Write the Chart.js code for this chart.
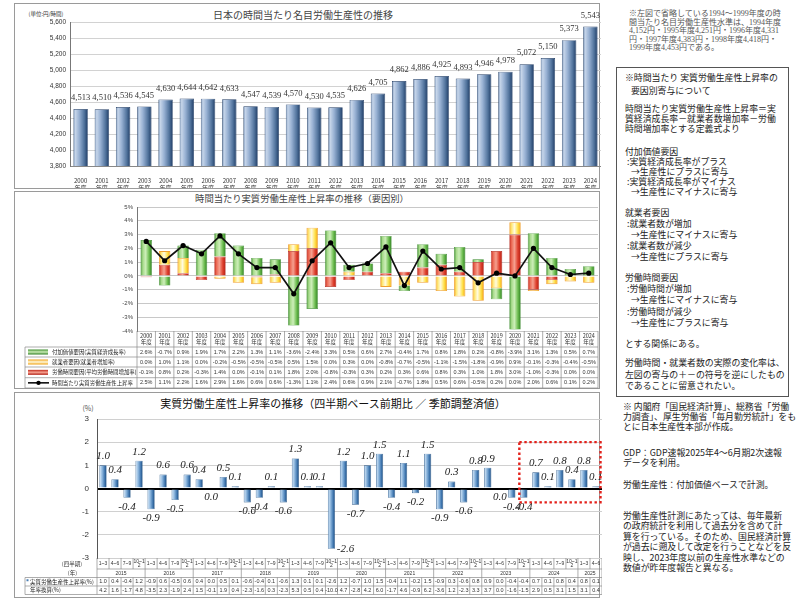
<!DOCTYPE html>
<html lang="ja">
<head>
<meta charset="utf-8">
<script src="https://cdn.jsdelivr.net/npm/chart.js@4.4.1/dist/chart.umd.min.js"></script>
<style>
  body { margin:0; width:800px; height:602px; overflow:hidden; background:#fff; position:relative;
         font-family:"Noto Sans CJK JP", sans-serif; color:#222; }
  .panel { position:absolute; border:1px solid #9a9a9a; box-sizing:border-box; }
  canvas { position:absolute; }
  .ttl { position:absolute; white-space:nowrap; transform:translateX(-50%); line-height:1; }
  .txt { position:absolute; white-space:pre; font-size:8.9px; color:#222; }
  .note { position:absolute; white-space:pre; font-family:"Liberation Serif","Noto Sans CJK JP",serif; font-size:8px; line-height:8.6px; color:#555; }
  .box { position:absolute; left:616px; top:67px; width:173px; height:330px; border:1px solid #555; box-sizing:border-box; }
</style>
</head>
<body>

<div class="panel" style="left:14px;top:3px;width:586px;height:186px"></div>
<div class="panel" style="left:14px;top:191px;width:586px;height:198px"></div>
<div class="panel" style="left:14px;top:392px;width:586px;height:206px"></div>

<div class="ttl" style="left:303px;top:10px;font-size:10px;color:#444">日本の時間当たり名目労働生産性の推移</div>
<div class="ttl" style="left:46px;top:12px;font-size:5.5px;color:#333">(単位:円/時間)</div>
<div class="ttl" style="left:302px;top:194px;font-size:9.3px;color:#444">時間当たり実質労働生産性上昇率の推移（要因別）</div>
<div class="ttl" style="left:333px;top:398px;font-size:11px;color:#111">実質労働生産性上昇率の推移（四半期ベース前期比 ／ 季節調整済値）</div>
<div class="ttl" style="left:88px;top:405px;font-size:7px;color:#555">(%)</div>

<canvas id="c1" width="586" height="184" style="left:15px;top:4px"></canvas>
<canvas id="c2" width="587" height="197" style="left:15px;top:192px"></canvas>
<canvas id="c3" width="587" height="209" style="left:15px;top:393px"></canvas>

<div class="note" style="left:629px;top:10px">※左図で省略している1994～1999年度の時
間当たり名目労働生産性水準は、1994年度
4,152円・1995年度4,251円・1996年度4,331
円・1997年度4,383円・1998年度4,418円・
1999年度4,453円である。</div>

<div class="box"></div>
<div class="txt" style="left:625px;top:72px;line-height:12.5px">※時間当たり 実質労働生産性上昇率の
   要因別寄与について</div>
<div class="txt" style="left:625px;top:104px;line-height:9.8px">時間当たり実質労働生産性上昇率＝実
質経済成長率－就業者数増加率－労働
時間増加率とする定義式より</div>
<div class="txt" style="left:625px;top:147px;line-height:9.9px">付加価値要因
 :実質経済成長率がプラス
   →生産性にプラスに寄与
 :実質経済成長率がマイナス
   →生産性にマイナスに寄与</div>
<div class="txt" style="left:625px;top:207px;line-height:11px">就業者要因
 :就業者数が増加
   →生産性にマイナスに寄与
 :就業者数が減少
   →生産性にプラスに寄与</div>
<div class="txt" style="left:625px;top:272px;line-height:11.2px">労働時間要因
 :労働時間が増加
   →生産性にマイナスに寄与
 :労働時間が減少
   →生産性にプラスに寄与</div>
<div class="txt" style="left:625px;top:337px">とする関係にある。</div>
<div class="txt" style="left:625px;top:357px;line-height:11.5px">労働時間・就業者数の実際の変化率は、
左図の寄与の＋－の符号を逆にしたもの
であることに留意されたい。</div>

<div class="txt" style="left:623px;top:402px;line-height:10px">※ 内閣府「国民経済計算」、総務省「労働
力調査」、厚生労働省「毎月勤労統計」をも
とに日本生産性本部が作成。</div>
<div class="txt" style="left:623px;top:448px;line-height:9.6px">GDP：GDP速報2025年4～6月期2次速報
データを利用。</div>
<div class="txt" style="left:623px;top:478px">労働生産性：付加価値ベースで計測。</div>
<div class="txt" style="left:623px;top:511px;line-height:10.4px">労働生産性計測にあたっては、毎年最新
の政府統計を利用して過去分を含めて計
算を行っている。そのため、国民経済計算
が過去に遡及して改定を行うことなどを反
映し、2023年度以前の生産性水準などの
数値が昨年度報告と異なる。</div>

<script>
// 年度
const nendo = ["2000","2001","2002","2003","2004","2005","2006","2007","2008","2009","2010","2011","2012",
               "2013","2014","2015","2016","2017","2018","2019","2020","2021","2022","2023","2024"];

// 時間当たり名目労働生産性 (円/時間)
const meimoku = [4513,4510,4536,4545,4630,4644,4642,4633,4547,4539,4570,4530,4535,
                 4626,4705,4862,4886,4925,4893,4946,4978,5072,5150,5373,5543];
const meimokuTicks = [3800,4000,4200,4400,4600,4800,5000,5200,5400,5600];

// 要因別 (%)
const fukaKachi = [2.6,-0.7,0.9,1.9,1.7,2.2,1.3,1.1,-3.6,-2.4,3.3,0.5,0.6,2.7,-0.4,1.7,0.8,1.8,0.2,-0.8,-3.9,3.1,1.3,0.5,0.7];
const shugyosha = [0.0,1.0,1.1,0.0,-0.2,-0.5,-0.5,-0.5,0.5,1.5,0.0,0.3,0.0,-0.8,-0.7,-0.5,-1.1,-1.5,-1.8,-0.9,0.9,-0.1,-0.3,-0.4,-0.5];
const rodoJikan = [-0.1,0.8,0.2,-0.3,1.4,0.0,-0.1,0.1,1.8,2.0,-0.8,-0.3,0.3,0.2,0.3,0.6,0.8,0.3,1.0,1.8,3.0,-1.0,-0.3,0.0,0.0];
const jisshitsu = [2.5,1.1,2.2,1.6,2.9,1.6,0.6,0.6,-1.3,1.1,2.4,0.6,0.9,2.1,-0.7,1.8,0.5,0.6,-0.5,0.2,0.0,2.0,0.6,0.1,0.2];
const yoinTicks = [-4,-3,-2,-1,0,1,2,3,4,5];
const yoinNames = ["付加価値要因(実質経済成長率)","就業者要因(就業者増加率)","労働時間要因(平均労働時間増加率)","時間当たり実質労働生産性上昇率"];

// 四半期
const nen = ["2015","2016","2017","2018","2019","2020","2021","2022","2023","2024","2025"];
const shihanki = ["1~3","4~6","7~9","10~12"];
const zenkihi = [1.0,0.4,-0.4,1.2, -0.9,0.6,-0.5,0.6, 0.4,0.0,0.5,0.1, -0.6,-0.4,0.1,-0.6,
                 1.3,0.1,0.1,-2.6, 1.2,-0.7,1.0,1.5, -0.4,1.1,-0.2,1.5, -0.9,0.3,-0.6,0.8,
                 0.9,0.0,-0.4,-0.4, 0.7,0.1,0.8,0.4, 0.8,0.1];
const nenritsu = [4.2,1.6,-1.7,4.8, -3.5,2.3,-1.9,2.4, 1.5,-0.1,1.9,0.4, -2.3,-1.6,0.3,-2.3,
                  5.3,0.5,0.4,-10.0, 4.7,-2.8,4.2,6.0, -1.7,4.6,-0.9,6.2, -3.6,1.2,-2.3,3.3,
                  3.7,0.0,-1.6,-1.5, 2.9,0.5,3.1,1.5, 3.1,0.4];
const shihankiTicks = [-3,-2,-1,0,1,2,3];
const kyochoKara = "2023 10~12";   // 赤枠の開始期

const shihankiLabels = [];
nen.forEach(y => shihanki.forEach(q => shihankiLabels.push(y + " " + q)));
shihankiLabels.length = zenkihi.length;

const JP = '"Noto Sans CJK JP"';
const AR = '"Liberation Sans", Arial';

function fillGrad(stops, pct) {
    return function (c) {
        const chart = c.chart, ca = chart.chartArea;
        if (!ca) return stops[2][1];
        const xs = chart.scales.x;
        const cw = xs.width / chart.data.labels.length;
        const cx = xs.getPixelForValue(c.dataIndex);
        const w = cw * pct;
        const g = chart.ctx.createLinearGradient(cx - w / 2, 0, cx + w / 2, 0);
        stops.forEach(s => g.addColorStop(s[0], s[1]));
        return g;
    };
}

const blue1 = [[0,'#6a8ab4'],[0.14,'#c6d5e9'],[0.4,'#98b1d3'],[0.75,'#52749d'],[1,'#1e3b64']];
const blue3 = [[0,'#3d72a8'],[0.15,'#c2daf0'],[0.4,'#8ab4dc'],[0.75,'#3e75ae'],[1,'#1c4878']];
const green = [[0,'#3e8e2e'],[0.2,'#a6da8a'],[0.45,'#cdeeb9'],[0.75,'#6dbd50'],[1,'#2e7e21']];
const yellow = [[0,'#f2a21a'],[0.2,'#ffe877'],[0.45,'#fffbe0'],[0.75,'#ffe14a'],[1,'#f0a010']];
const red = [[0,'#c0281c'],[0.2,'#ec6a55'],[0.45,'#f5a08f'],[0.75,'#de3f2d'],[1,'#b21e14']];

function setTicks(list) {
    return s => { s.ticks = list.map(v => ({ value: v })); };
}

// ---------- 名目労働生産性 ----------
const c1Labels = {
    id: 'c1Labels',
    afterDatasetsDraw(chart) {
        const ctx = chart.ctx;
        ctx.save();
        ctx.font = '8.5px "Liberation Serif"';
        ctx.fillStyle = '#333';
        ctx.textAlign = 'center';
        ctx.textBaseline = 'middle';
        chart.getDatasetMeta(0).data.forEach((bar, i) => {
            ctx.fillText(meimoku[i].toLocaleString('en-US'), bar.x, bar.y - 11);
        });
        ctx.restore();
    }
};

new Chart(document.getElementById("c1"), {
    type: "bar",
    data: {
        labels: nendo.map(y => [y, "年度"]),
        datasets: [{
            data: meimoku,
            backgroundColor: fillGrad(blue1, 0.68),
            borderColor: '#243f66',
            borderWidth: 0.7,
            barPercentage: 1,
            categoryPercentage: 0.68
        }]
    },
    options: {
        responsive: false,
        animation: false,
        layout: { padding: { top: 18, left: 0, right: 0, bottom: 0 } },
        plugins: { legend: { display: false }, tooltip: { enabled: false } },
        scales: {
            x: {
                grid: { display: false },
                border: { color: '#888' },
                ticks: { font: { size: 6, family: JP }, color: '#333', padding: 3, maxRotation: 0, autoSkip: false },
                afterFit: s => { s.height = 22; }
            },
            y: {
                min: 3800, max: 5600,
                afterBuildTicks: setTicks(meimokuTicks),
                ticks: { font: { size: 6.5, family: AR }, color: '#333', padding: 4,
                         callback: v => v.toLocaleString('en-US') },
                grid: { color: '#d2d2d2', drawTicks: false },
                border: { color: '#777' },
                afterFit: s => { s.width = 55; }
            }
        }
    },
    plugins: [c1Labels]
});

// ---------- 要因別 ----------
const fmtPct = v => v.toFixed(1) + "%";

const c2Table = {
    id: 'c2Table',
    afterDraw(chart) {
        const { ctx, chartArea: ca, scales: { x } } = chart;
        const n = nendo.length;
        const cw = x.width / n;
        const rows = [ca.bottom, ca.bottom + 16, ca.bottom + 26, ca.bottom + 36, ca.bottom + 46.7, ca.bottom + 57];
        const L = 10;
        ctx.save();
        ctx.strokeStyle = '#8a8a8a';
        ctx.lineWidth = 0.7;
        ctx.beginPath();
        for (let r = 1; r < rows.length; r++) {
            ctx.moveTo(L, rows[r]); ctx.lineTo(ca.right, rows[r]);
        }
        for (let i = 0; i <= n; i++) {
            const xx = ca.left + i * cw;
            ctx.moveTo(xx, rows[0]); ctx.lineTo(xx, rows[5]);
        }
        ctx.moveTo(L, rows[1]); ctx.lineTo(L, rows[5]);
        ctx.stroke();

        ctx.textAlign = 'center';
        ctx.textBaseline = 'middle';
        ctx.fillStyle = '#333';
        ctx.font = '5.5px ' + JP;
        nendo.forEach((y, i) => {
            const cx = x.getPixelForValue(i);
            ctx.fillText(y, cx, rows[0] + 5);
            ctx.fillText("年度", cx, rows[0] + 11);
        });
        const series = [fukaKachi, shugyosha, rodoJikan, jisshitsu];
        ctx.font = '5.5px ' + AR;
        series.forEach((s, r) => {
            const cy = (rows[r + 1] + rows[r + 2]) / 2;
            s.forEach((v, i) => ctx.fillText(fmtPct(v), x.getPixelForValue(i), cy));
        });

        // legend cells
        const icons = [green, yellow, red];
        ctx.textAlign = 'left';
        ctx.font = '5.4px ' + JP;
        yoinNames.forEach((name, r) => {
            const cy = (rows[r + 1] + rows[r + 2]) / 2;
            if (r < 3) {
                const g = ctx.createLinearGradient(0, cy - 2.5, 0, cy + 2.5);
                g.addColorStop(0, icons[r][0][1]);
                g.addColorStop(0.5, icons[r][2][1]);
                g.addColorStop(1, icons[r][4][1]);
                ctx.fillStyle = g;
                ctx.fillRect(L + 3, cy - 2.5, 20, 5);
            } else {
                ctx.strokeStyle = '#000';
                ctx.lineWidth = 1.5;
                ctx.beginPath(); ctx.moveTo(L + 3, cy); ctx.lineTo(L + 24, cy); ctx.stroke();
                ctx.fillStyle = '#000';
                ctx.beginPath(); ctx.arc(L + 13.5, cy, 2.2, 0, Math.PI * 2); ctx.fill();
            }
            ctx.fillStyle = '#222';
            ctx.fillText(name, L + 27, cy);
        });
        ctx.restore();
    }
};

new Chart(document.getElementById("c2"), {
    type: "bar",
    data: {
        labels: nendo,
        datasets: [
            { label: yoinNames[2], data: rodoJikan, backgroundColor: fillGrad(red, 0.62),
              borderColor: '#b3281d', borderWidth: 0.6, order: 1 },
            { label: yoinNames[1], data: shugyosha, backgroundColor: fillGrad(yellow, 0.62),
              borderColor: '#f0a030', borderWidth: 0.8, order: 1 },
            { label: yoinNames[0], data: fukaKachi, backgroundColor: fillGrad(green, 0.62),
              borderColor: '#3a8a2c', borderWidth: 0.6, order: 1 },
            { type: 'line', label: yoinNames[3], data: jisshitsu, stack: 'line', order: 0,
              borderColor: '#111', borderWidth: 1.7, pointRadius: 2.6,
              pointBackgroundColor: '#000', pointBorderColor: '#000', pointBorderWidth: 0, tension: 0 }
        ]
    },
    options: {
        responsive: false,
        animation: false,
        datasets: { bar: { barPercentage: 1, categoryPercentage: 0.62 } },
        layout: { padding: { top: 15, left: 0, right: 0, bottom: 58 } },
        plugins: { legend: { display: false }, tooltip: { enabled: false } },
        scales: {
            x: { display: false, stacked: true, offset: true },
            y: {
                stacked: true, min: -4, max: 5,
                afterBuildTicks: setTicks(yoinTicks),
                ticks: { font: { size: 6, family: AR }, color: '#444', padding: 4, callback: v => v + "%" },
                grid: { color: '#c8c8c8', drawTicks: false },
                border: { color: '#777' },
                afterFit: s => { s.width = 122; }
            }
        }
    },
    plugins: [c2Table]
});

// ---------- 四半期 ----------
const c3Labels = {
    id: 'c3Labels',
    afterDatasetsDraw(chart) {
        const { ctx, chartArea: ca } = chart;
        ctx.save();
        ctx.font = 'italic 11px "Liberation Serif"';
        ctx.fillStyle = '#222';
        ctx.textAlign = 'center';
        ctx.textBaseline = 'middle';
        chart.getDatasetMeta(0).data.forEach((bar, i) => {
            const v = zenkihi[i];
            const t = v.toFixed(1);
            if (v > 0) ctx.fillText(t, bar.x, bar.y - 9);
            else if (bar.y + 15 > ca.bottom) ctx.fillText(t, bar.x + 14, bar.y);
            else ctx.fillText(t, bar.x, bar.y + 9);
        });
        ctx.restore();
    }
};

const c3Box = {
    id: 'c3Box',
    afterDatasetsDraw(chart) {
        const { ctx, chartArea: ca, scales: { x, y } } = chart;
        const i0 = shihankiLabels.indexOf(kyochoKara);
        const cw = x.width / shihankiLabels.length;
        const x0 = x.getPixelForValue(i0) - cw / 2 + 1.5;
        const x1 = ca.right - 1.5;
        const y0 = y.getPixelForValue(2.0), y1 = y.getPixelForValue(-0.6);
        ctx.save();
        ctx.strokeStyle = '#e3211b';
        ctx.lineWidth = 2.4;
        ctx.setLineDash([2.4, 2.6]);
        ctx.strokeRect(x0, y0, x1 - x0, y1 - y0);
        ctx.restore();
    }
};

const c3Table = {
    id: 'c3Table',
    afterDraw(chart) {
        const { ctx, chartArea: ca, scales: { x } } = chart;
        const n = zenkihi.length;
        const cw = x.width / n;
        const r = [ca.bottom, ca.bottom + 11, ca.bottom + 19.5, ca.bottom + 28, ca.bottom + 36.5];
        const L = 10;
        ctx.save();
        ctx.strokeStyle = '#8a8a8a';
        ctx.lineWidth = 0.7;
        ctx.beginPath();
        ctx.moveTo(ca.left, r[1]); ctx.lineTo(ca.right, r[1]);
        for (let k = 2; k < 5; k++) { ctx.moveTo(L, r[k]); ctx.lineTo(ca.right, r[k]); }
        for (let i = 0; i <= n; i++) {
            const xx = ca.left + i * cw;
            ctx.moveTo(xx, r[0]); ctx.lineTo(xx, r[1]);
            ctx.moveTo(xx, r[2]); ctx.lineTo(xx, r[4]);
            if (i % 4 === 0 || i === n) { ctx.moveTo(xx, r[1]); ctx.lineTo(xx, r[2]); }
        }
        ctx.moveTo(L, r[2]); ctx.lineTo(L, r[4]);
        ctx.stroke();

        ctx.fillStyle = '#333';
        ctx.textAlign = 'center';
        ctx.textBaseline = 'middle';
        ctx.font = '5px ' + AR;
        for (let i = 0; i < n; i++) {
            const cx = x.getPixelForValue(i);
            const q = shihanki[i % 4];
            if (ctx.measureText(q).width > cw - 1) {
                ctx.fillText(q.slice(0, -1), cx, r[0] + 3.2);
                ctx.fillText(q.slice(-1), cx, r[0] + 7.8);
            } else {
                ctx.fillText(q, cx, r[0] + 5.5);
            }
        }
        nen.forEach((y, k) => {
            const a = k * 4, b = Math.min(k * 4 + 3, n - 1);
            const cx = (x.getPixelForValue(a) + x.getPixelForValue(b)) / 2;
            ctx.fillText(y, cx, (r[1] + r[2]) / 2);
        });
        ctx.font = '5.5px ' + AR;
        zenkihi.forEach((v, i) => ctx.fillText(v.toFixed(1), x.getPixelForValue(i), (r[2] + r[3]) / 2));
        nenritsu.forEach((v, i) => ctx.fillText(v.toFixed(1), x.getPixelForValue(i), (r[3] + r[4]) / 2));

        ctx.textAlign = 'right';
        ctx.font = '5.5px ' + JP;
        ctx.fillText("(四半期)", 67, r[0] + 5.5);
        ctx.fillText("(年)", 62, (r[1] + r[2]) / 2);
        ctx.textAlign = 'left';
        ctx.fillStyle = '#4a7fb5';
        ctx.fillRect(L + 1.5, (r[2] + r[3]) / 2 - 2.5, 2, 2);
        ctx.fillStyle = '#222';
        ctx.fillText("実質労働生産性上昇率(%)", L + 5, (r[2] + r[3]) / 2);
        ctx.fillText("年率換算(%)", L + 5, (r[3] + r[4]) / 2);
        ctx.restore();
    }
};

new Chart(document.getElementById("c3"), {
    type: "bar",
    data: {
        labels: shihankiLabels,
        datasets: [{
            data: zenkihi,
            backgroundColor: fillGrad(blue3, 0.6),
            borderColor: '#2a5888',
            borderWidth: 0.6,
            barPercentage: 1,
            categoryPercentage: 0.6
        }]
    },
    options: {
        responsive: false,
        animation: false,
        layout: { padding: { top: 26, left: 0, right: 0, bottom: 44 } },
        plugins: { legend: { display: false }, tooltip: { enabled: false } },
        scales: {
            x: { display: false, offset: true },
            y: {
                min: -3, max: 3,
                afterBuildTicks: setTicks(shihankiTicks),
                ticks: { font: { size: 8, family: AR }, color: '#333', padding: 8 },
                grid: {
                    drawTicks: false,
                    color: c => c.tick && c.tick.value === 0 ? '#000' : '#d0d0d0',
                    lineWidth: c => c.tick && c.tick.value === 0 ? 2 : 1
                },
                border: { color: '#555' },
                afterFit: s => { s.width = 82; }
            }
        }
    },
    plugins: [c3Labels, c3Box, c3Table]
});
</script>
</body>
</html>
